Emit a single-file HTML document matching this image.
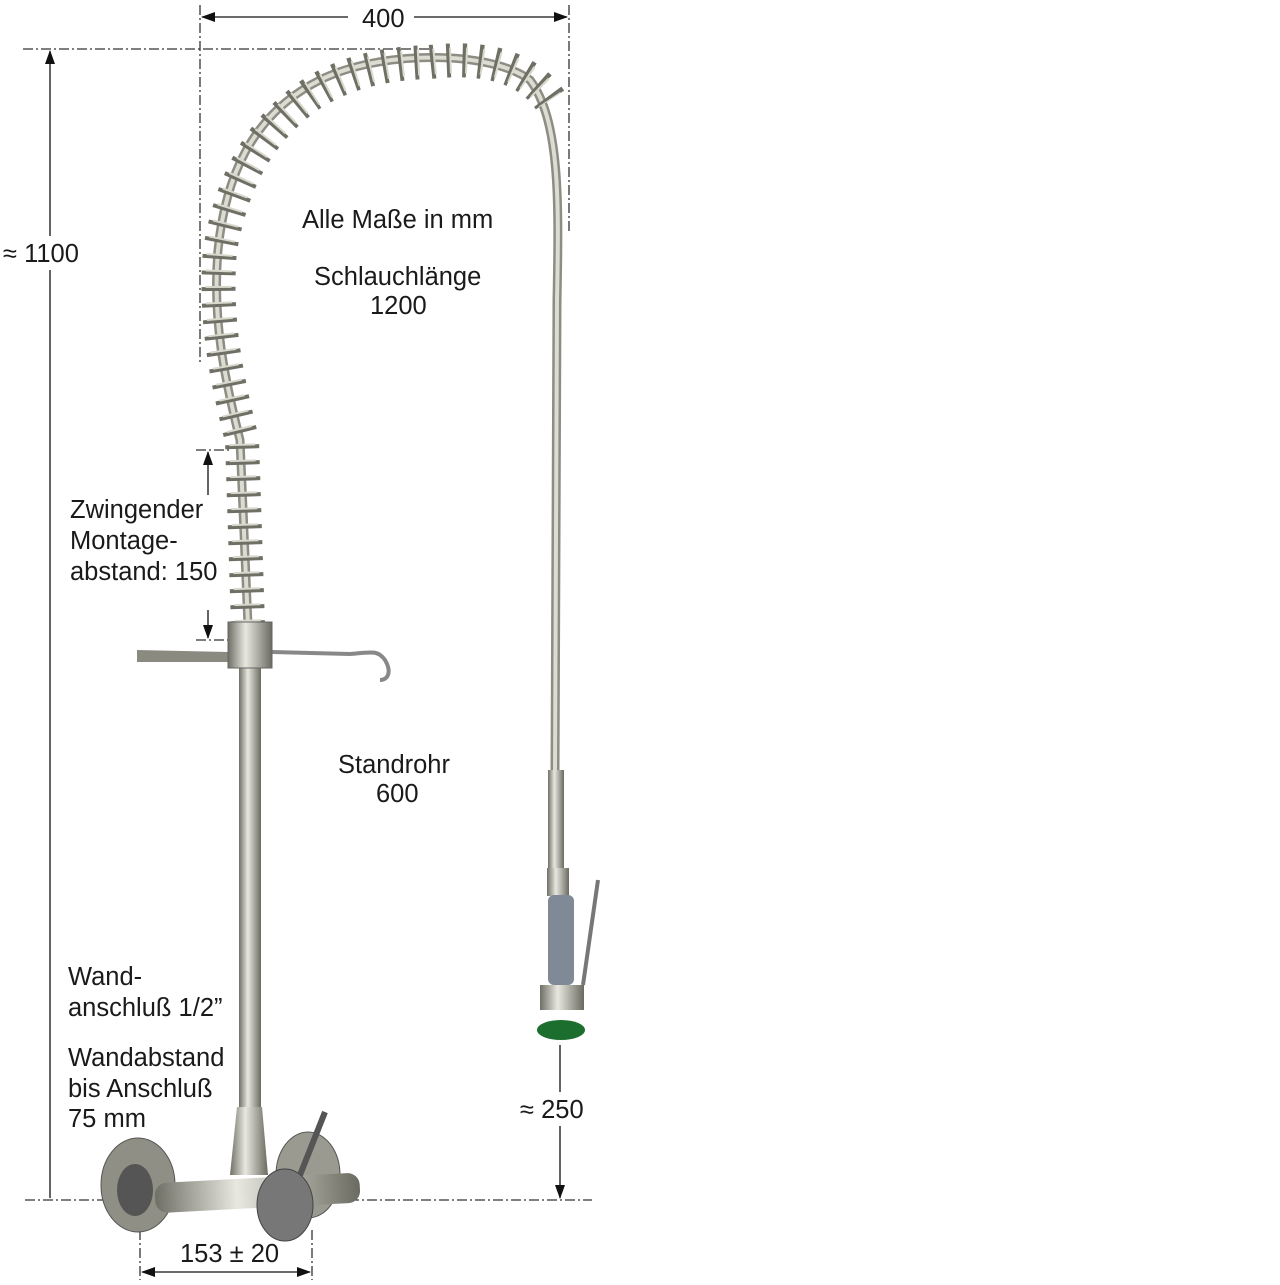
<!DOCTYPE html>
<html><head><meta charset="utf-8"><style>
html,body{margin:0;padding:0;background:#fff;}
svg text{font-family:"Liberation Sans",sans-serif;fill:#1a1a1a;font-size:25.5px;}
</style></head><body>
<svg width="1280" height="1280" viewBox="0 0 1280 1280" xmlns="http://www.w3.org/2000/svg">
<defs>
<linearGradient id="pipe" x1="0" x2="1"><stop offset="0" stop-color="#6f6f66"/><stop offset="0.4" stop-color="#e8e8e0"/><stop offset="1" stop-color="#6a6a60"/></linearGradient>
<marker id="ar" markerWidth="14" markerHeight="10" refX="13" refY="5" orient="auto" markerUnits="userSpaceOnUse"><path d="M0,0 L14,5 L0,10 Z" fill="#111"/></marker>
</defs>
<g stroke="#333" stroke-width="1.3" fill="none" stroke-dasharray="10 3 2 3">
<line x1="200" y1="5" x2="200" y2="362"/>
<line x1="569" y1="5" x2="569" y2="232"/>
<line x1="23" y1="49" x2="430" y2="49"/>
<line x1="25" y1="1200" x2="592" y2="1200"/>
<line x1="140" y1="1230" x2="140" y2="1280"/>
<line x1="312" y1="1230" x2="312" y2="1280"/>
<line x1="196" y1="450" x2="232" y2="450"/>
<line x1="196" y1="640" x2="232" y2="640"/>
</g>
<g stroke="#111" stroke-width="1.3">
<line x1="348" y1="17" x2="202" y2="17" marker-end="url(#ar)"/>
<line x1="414" y1="17" x2="567" y2="17" marker-end="url(#ar)"/>
<line x1="50" y1="1198" x2="50" y2="51" marker-end="url(#ar)"/>
<line x1="560" y1="1045" x2="560" y2="1198" marker-end="url(#ar)"/>
<line x1="225" y1="1272" x2="142" y2="1272" marker-end="url(#ar)"/>
<line x1="225" y1="1272" x2="310" y2="1272" marker-end="url(#ar)"/>
<line x1="208" y1="495" x2="208" y2="452" marker-end="url(#ar)"/>
<line x1="208" y1="610" x2="208" y2="638" marker-end="url(#ar)"/>
</g>
<rect x="0" y="236" width="84" height="34" fill="#fff"/>
<rect x="515" y="1092" width="75" height="34" fill="#fff"/>
<text x="362" y="27">400</text>
<text x="3" y="262">≈ 1100</text>
<text x="302" y="228">Alle Maße in mm</text>
<text x="314" y="285">Schlauchlänge</text>
<text x="370" y="314">1200</text>
<text x="70" y="518">Zwingender</text>
<text x="70" y="549">Montage-</text>
<text x="70" y="580">abstand: 150</text>
<text x="338" y="773">Standrohr</text>
<text x="376" y="802">600</text>
<text x="68" y="985">Wand-</text>
<text x="68" y="1016">anschluß 1/2”</text>
<text x="68" y="1066">Wandabstand</text>
<text x="68" y="1097">bis Anschluß</text>
<text x="68" y="1127">75 mm</text>
<text x="520" y="1118">≈ 250</text>
<text x="180" y="1262">153 ± 20</text>
<rect x="239" y="660" width="22" height="450" fill="url(#pipe)"/>
<path d="M555,770 L557,300 C559,200 560,120 530,80 C490,50 380,50 320,80 C250,115 225,180 218,250 C212,320 225,380 240,440 L248,625" fill="none" stroke="#8d8d84" stroke-width="9"/>
<path d="M555,770 L557,300 C559,200 560,120 530,80 C490,50 380,50 320,80 C250,115 225,180 218,250 C212,320 225,380 240,440 L248,625" fill="none" stroke="#dcdcd2" stroke-width="4"/>
<path d="M550,100 C530,70 490,55 430,62 C380,63 340,75 310,95 C260,130 232,180 220,250 C214,320 227,380 242,440 L248,625" fill="none" stroke="#6f6f66" stroke-width="34" stroke-dasharray="4 12"/>
<path d="M550,100 C530,70 490,55 430,62 C380,63 340,75 310,95 C260,130 232,180 220,250 C214,320 227,380 242,440 L248,625" fill="none" stroke="#d8d8cc" stroke-width="26" stroke-dasharray="2 14" stroke-dashoffset="1"/>
<path d="M137,650 L228,652 L228,662 L137,662 Z" fill="#8a8a80"/>
<path d="M272,652 L350,654 C372,652 378,650 385,660 C392,672 388,680 380,680" fill="none" stroke="#888" stroke-width="4"/>
<rect x="228" y="622" width="44" height="46" fill="url(#pipe)" stroke="#666" stroke-width="1"/>
<rect x="548" y="770" width="16" height="100" fill="url(#pipe)"/>
<rect x="547" y="868" width="22" height="28" fill="url(#pipe)"/>
<rect x="548" y="895" width="26" height="90" rx="6" fill="#7f8a96"/>
<path d="M583,985 L598,880" stroke="#777" stroke-width="4"/>
<rect x="540" y="985" width="44" height="25" fill="url(#pipe)"/>
<ellipse cx="561" cy="1030" rx="24" ry="10" fill="#1b6e2e"/>
<ellipse cx="138" cy="1185" rx="37" ry="47" fill="#8f8f86" stroke="#555"/>
<ellipse cx="135" cy="1190" rx="18" ry="26" fill="#555"/>
<ellipse cx="308" cy="1175" rx="32" ry="43" fill="#9a9a90" stroke="#555"/>
<rect x="155" y="1178" width="205" height="30" rx="12" fill="url(#pipe)" transform="rotate(-3 255 1193)"/>
<path d="M237,1107 L262,1107 L268,1175 L230,1175 Z" fill="url(#pipe)"/>
<path d="M300,1175 L325,1112" stroke="#555" stroke-width="6"/>
<ellipse cx="285" cy="1205" rx="28" ry="36" fill="#777" stroke="#444"/>
</svg>
</body></html>
